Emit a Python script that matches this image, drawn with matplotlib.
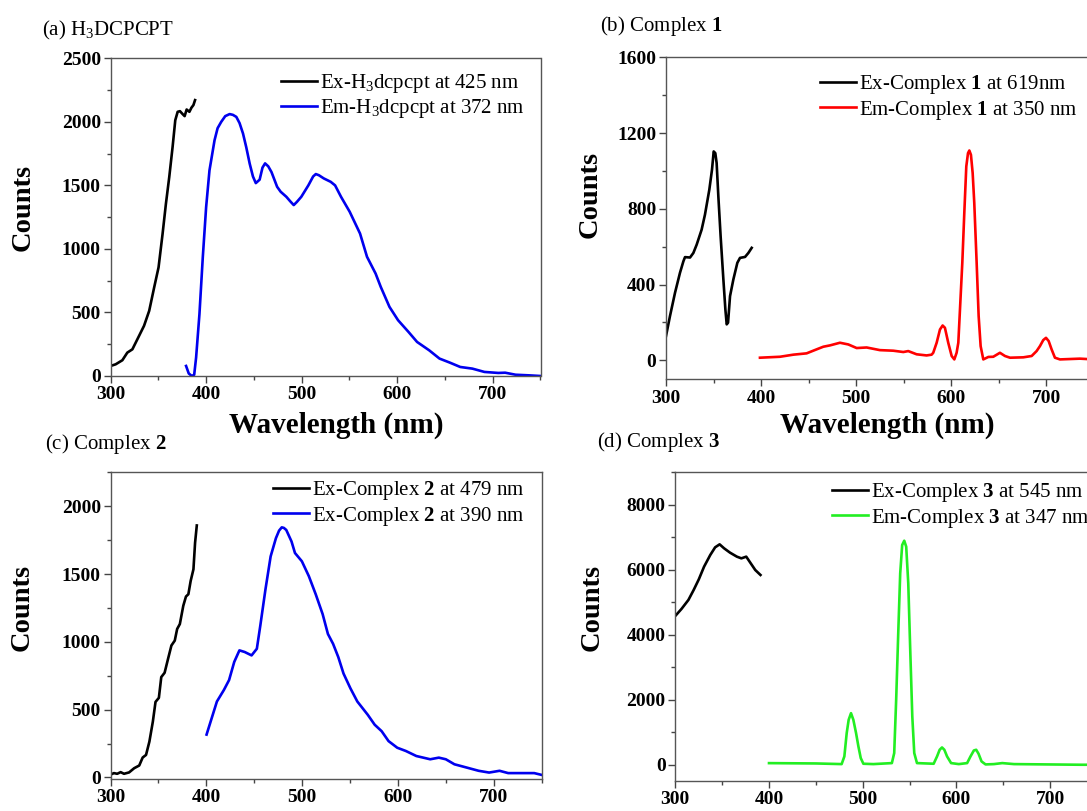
import numpy as np
import matplotlib
matplotlib.use("Agg")
import matplotlib.pyplot as plt
from matplotlib.ticker import MultipleLocator

plt.rcParams.update({
    "font.family": ["Liberation Serif", "DejaVu Serif"],
    "mathtext.fontset": "custom",
    "mathtext.rm": "Liberation Serif",
    "mathtext.it": "Liberation Serif:italic",
    "mathtext.bf": "Liberation Serif:bold",
})

W, H = 1087, 811

# ---- (a) H3DCPCPT ----
a_ex_x = [300, 305.3, 312.3, 317.5, 322.8, 329.8, 335, 340.4, 345.6, 350.2, 354.4,
          357.9, 361.4, 364.9, 367.7, 370.2, 372.6, 375.4, 377.5, 379.6, 382.5,
          384.6, 386.7, 388.4]
a_ex_y = [79, 92, 124, 184, 210, 316, 395, 513, 697, 855, 1118, 1355, 1566, 1803,
          2013, 2079, 2084, 2061, 2045, 2097, 2079, 2111, 2132, 2171]
a_em_x = [379, 381.8, 385, 387.5, 389.5, 393, 396.5, 400, 403.5, 408.8, 412, 415.8,
          420, 424.6, 428, 431.6, 435, 438.6, 442, 445.6, 449, 452, 456, 459, 461.7,
          465, 468.4, 474.3, 478, 484, 488, 491.7, 495, 499.6, 507, 512, 514.8, 518,
          523.1, 530.4, 535, 541.2, 550.3, 561.1, 568.4, 577.4, 582.8, 591.9, 600.9,
          611.8, 620.8, 633.5, 644.3, 655.2, 666, 678.7, 691.3, 705.8, 713, 723.9,
          738.3, 750]
a_em_y = [79, 20, 0, 10, 145, 487, 934, 1329, 1618, 1855, 1950, 2000, 2045, 2061,
          2055, 2039, 1990, 1908, 1800, 1671, 1570, 1518, 1545, 1640, 1673, 1650, 1605,
          1489, 1450, 1410, 1375, 1345, 1370, 1410, 1500, 1570, 1589, 1580, 1555, 1528,
          1500, 1410, 1292, 1121, 938, 806, 701, 544, 439, 347, 268, 202, 137, 105, 71,
          58, 32, 24, 26, 10, 5, 0]

# ---- (b) Complex 1 ----
b_ex_x = [300, 304.2, 309.5, 314.7, 318.3, 320, 325.3, 328.8, 332.3, 337.5, 341,
          345.6, 348.4, 350.2, 351.9, 353.3, 355.1, 357.5, 360.4, 362.5, 363.9, 365.3,
          367.4, 370.9, 375.1, 377.9, 383.2, 386.7, 390.2]
b_ex_y = [128, 234, 357, 462, 523, 545, 543, 567, 611, 690, 769, 901, 1006, 1103,
          1094, 1042, 866, 655, 427, 269, 190, 199, 339, 427, 515, 541, 546, 567, 594]
b_em_x = [398.9, 420, 434, 448, 458.5, 465.6, 472.6, 483.1, 491.9, 500.7, 511.2,
          525.2, 539.2, 549.8, 555, 563.8, 574.3, 579.6, 581.3, 584.9, 588.4, 591.2,
          593.6, 597.1, 600.7, 603.5, 605.9, 607.7, 609.8, 611.9, 614, 616.1, 617.9,
          619.3, 621, 622.8, 624.5, 627, 629.1, 631.2, 634, 639.3, 644.5, 651.5, 656.8,
          662.1, 676.1, 684.9, 690.1, 693.6, 697.1, 700, 702.8, 705.9, 709.4, 714.7,
          735.7, 750]
b_em_y = [14, 19, 30, 37, 58, 72, 79, 93, 84, 65, 68, 54, 51, 44, 49, 32, 26, 30, 40,
          93, 163, 184, 172, 93, 23, 5, 40, 93, 304, 515, 778, 1024, 1094, 1108, 1085,
          989, 831, 515, 234, 75, 5, 18, 19, 40, 23, 14, 16, 23, 49, 75, 107, 119, 102,
          58, 14, 5, 9, 5]

# ---- (c) Complex 2 ----
c_ex_x = [300, 303.5, 307, 310.6, 314.1, 319.4, 324.7, 330, 333.6, 337.1, 340.6,
          344.2, 347, 350.5, 353, 356.5, 360.1, 363.6, 367.1, 369.6, 372.4, 376,
          378.8, 381.3, 383.7, 386.6, 388.3, 390.1]
c_ex_y = [20, 32, 27, 39, 27, 37, 68, 88, 147, 166, 264, 411, 557, 587, 740, 772, 875,
          973, 1009, 1095, 1131, 1266, 1334, 1351, 1449, 1535, 1730, 1858]
c_em_x = [400.3, 405.7, 411.1, 418.4, 423.8, 429.2, 434.6, 440.1, 447.3, 452.8, 456.4,
          461.8, 467.2, 472.7, 476, 478.8, 481, 483.5, 489, 492.6, 499.8, 507.1, 514.3,
          521.5, 527, 532.4, 537.8, 543.3, 550.5, 557.7, 568.6, 575.8, 583.1, 590.3,
          599.4, 608.4, 619.3, 633.8, 642.8, 650.1, 659.1, 671.8, 684.4, 695.3, 706.2,
          715.2, 727.9, 742.4, 750]
c_em_y = [316, 438, 560, 645, 718, 852, 937, 925, 900, 949, 1119, 1387, 1630, 1764,
          1820, 1844, 1840, 1825, 1740, 1655, 1594, 1484, 1350, 1204, 1058, 985, 888,
          766, 657, 560, 462, 389, 341, 268, 219, 195, 158, 134, 146, 134, 97, 73, 49,
          36, 49, 32, 32, 32, 19]

# ---- (d) Complex 3 ----
d_ex_x = [300, 306.6, 314, 319.6, 325.1, 330.7, 337.3, 342.5, 347.3, 352.1, 358.4,
          365.7, 370.5, 375.7, 380.5, 385.3, 390.9]
d_ex_y = [4580, 4795, 5072, 5379, 5707, 6096, 6455, 6691, 6783, 6660, 6527, 6404,
          6352, 6404, 6199, 5994, 5840]
d_em_x = [400, 450, 477.5, 480.4, 482.9, 485, 487.5, 490, 492.9, 495.4, 497.9, 500.7,
          511.4, 531.1, 533.6, 535.7, 537.9, 540, 542.1, 544.3, 546.4, 548.6, 550.7,
          552.9, 555, 557.9, 575.7, 579.3, 582.1, 584.6, 587.1, 590, 594.3, 602.5,
          611.4, 615, 618.6, 621.1, 623.6, 626.8, 631.1, 640, 648.9, 661.4, 733, 750]
d_em_y = [50, 40, 20, 256, 973, 1383, 1588, 1383, 973, 563, 205, 31, 20, 51, 359,
          2008, 4047, 5891, 6762, 6895, 6711, 5584, 3535, 1486, 359, 51, 31, 256, 461,
          533, 461, 256, 51, 20, 51, 256, 440, 461, 338, 102, 10, 20, 51, 20, 0, 0]

# axes boxes in pixels: left, right, top, bottom
BOXES = {
    "a": (110.6, 540.5, 58.3, 376.0),
    "b": (666.0, 1093.5, 57.3, 379.3),
    "c": (110.5, 541.5, 472.3, 778.8),
    "d": (675.3, 1097.0, 472.3, 781.0),
}
LW = 1.9
FS = 15
TFS = 14

fig = plt.figure(figsize=(W / 100, H / 100), dpi=100)


def px_axes(key):
    l, r, t, b = BOXES[key]
    return fig.add_axes([l / W, 1 - b / H, (r - l) / W, (b - t) / H])


def style(ax, ylim, ymaj):
    ax.set_xlim(300, 750)
    ax.set_ylim(*ylim)
    ax.xaxis.set_major_locator(MultipleLocator(100))
    ax.xaxis.set_minor_locator(MultipleLocator(50))
    ax.yaxis.set_major_locator(MultipleLocator(ymaj))
    ax.yaxis.set_minor_locator(MultipleLocator(ymaj / 2))
    ax.tick_params(which="both", direction="out", colors="#444444",
                   labelcolor="black", labelsize=TFS, width=1.0)
    ax.tick_params(which="major", length=5)
    ax.tick_params(axis="x", which="major", pad=2.5)
    ax.tick_params(axis="y", which="major", pad=2)
    ax.tick_params(which="minor", length=3)
    for lab in ax.get_xticklabels() + ax.get_yticklabels():
        lab.set_fontweight("bold")
    for s in ax.spines.values():
        s.set_color("#555555")
        s.set_linewidth(1.0)


def legend(ax, x, y):
    ax.legend(loc="upper left", bbox_to_anchor=(x / W, 1 - y / H),
              bbox_transform=fig.transFigure, frameon=False, fontsize=FS,
              borderpad=0, borderaxespad=0, handlelength=1.75,
              handletextpad=0.1, labelspacing=0.12)


def axis_labels(ax, xl, yl):
    if xl is not None:
        ax.set_xlabel("Wavelength (nm)", fontsize=21, fontweight="bold",
                      va="center", ha="center")
        ax.xaxis.set_label_coords(xl[0] / W, 1 - xl[1] / H, transform=fig.transFigure)
    ax.set_ylabel("Counts", fontsize=20.5, fontweight="bold", va="center",
                  ha="center", rotation_mode="default")
    ax.yaxis.set_label_coords(yl[0] / W, 1 - yl[1] / H, transform=fig.transFigure)


# (a)
ax = px_axes("a")
ax.plot(a_ex_x, a_ex_y, color="black", lw=LW, label="Ex-H$_3$dcpcpt at 425 nm")
ax.plot(a_em_x, a_em_y, color="#0000EE", lw=LW, label="Em-H$_3$dcpcpt at 372 nm")
style(ax, (0, 2500), 500)
legend(ax, 281, 72)
axis_labels(ax, (336, 425), (23.6, 207))
fig.text(41.7 / W, 1 - 30.7 / H, "(a) H$_3$DCPCPT", fontsize=FS, va="center", ha="left")

# (b)
ax = px_axes("b")
ax.plot(b_ex_x, b_ex_y, color="black", lw=LW, label=r"Ex-Complex $\mathbf{1}$ at 619nm")
ax.plot(b_em_x, b_em_y, color="#FF0000", lw=LW, label=r"Em-Complex $\mathbf{1}$ at 350 nm")
style(ax, (-100, 1600), 400)
legend(ax, 820, 73)
axis_labels(ax, (887, 425), (590, 194))
fig.text(600.3 / W, 1 - 26 / H, r"(b) Complex $\mathbf{1}$", fontsize=FS, va="center", ha="left")

# (c)
ax = px_axes("c")
ax.plot(c_ex_x, c_ex_y, color="black", lw=LW, label=r"Ex-Complex $\mathbf{2}$ at 479 nm")
ax.plot(c_em_x, c_em_y, color="#0000EE", lw=LW, label=r"Ex-Complex $\mathbf{2}$ at 390 nm")
style(ax, (-10, 2250), 500)
legend(ax, 273, 479)
axis_labels(ax, None, (22.6, 607))
fig.text(45 / W, 1 - 444 / H, r"(c) Complex $\mathbf{2}$", fontsize=FS, va="center", ha="left")

# (d)
ax = px_axes("d")
ax.plot(d_ex_x, d_ex_y, color="black", lw=LW, label=r"Ex-Complex $\mathbf{3}$ at 545 nm")
ax.plot(d_em_x, d_em_y, color="#22EE22", lw=LW, label=r"Em-Complex $\mathbf{3}$ at 347 nm")
style(ax, (-500, 9000), 2000)
legend(ax, 832, 481)
axis_labels(ax, None, (591.7, 607))
fig.text(596.8 / W, 1 - 441.7 / H, r"(d) Complex $\mathbf{3}$", fontsize=FS, va="center", ha="left")

fig.savefig("out.png", dpi=100)
